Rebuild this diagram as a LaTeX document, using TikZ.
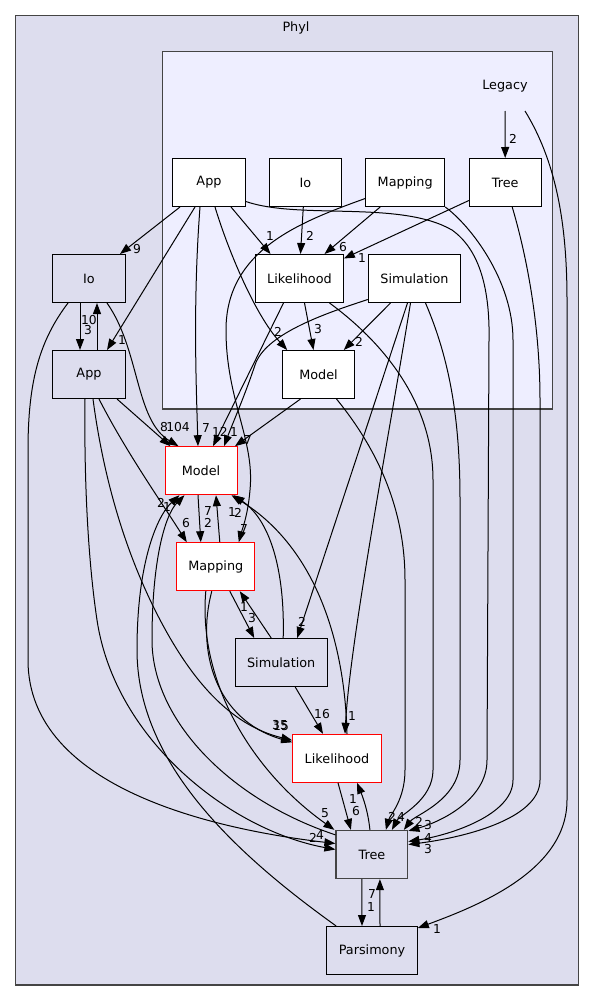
\documentclass[tikz,border=0pt]{standalone}
\usepackage{fontspec}
\setmainfont{DejaVu Sans}
\usetikzlibrary{arrows.meta,calc}
\definecolor{phylfill}{HTML}{DDDDEE}
\definecolor{legfill}{HTML}{EEEEFF}
\definecolor{clline}{HTML}{444444}
\begin{document}
\begin{tikzpicture}[x=1pt,y=-1pt,
  txt/.style={font=\fontsize{12.8}{15}\selectfont},
  lbl/.style={font=\fontsize{12.3}{14}\selectfont, inner sep=0pt},
  box/.style={draw=black, line width=1pt, minimum height=48pt, inner sep=0pt, font=\fontsize{12.8}{15}\selectfont},
  inbox/.style={box, fill=white},
  outbox/.style={box, fill=phylfill},
  redbox/.style={box, draw=red, fill=white},
  edge/.style={draw=black, line width=1pt, -{Triangle[length=11pt,width=8pt]}}
]
\useasboundingbox (0,0) rectangle (595,1001);
\fill[white] (0,0) rectangle (595,1001);
% clusters
\draw[fill=phylfill, draw=clline, line width=1.3pt] (15.5,15.5) rectangle (578.5,985);
\node[txt] (phyl) at (296,28) {Phyl};
\draw[fill=legfill, draw=clline, line width=1.3pt] (162.5,51.5) rectangle (552.5,409);
\node[txt] (legacy) at (505,86) {Legacy};
\coordinate (legA) at (505,111);
\coordinate (legB) at (525,111);
% inner nodes
\node[inbox, minimum width=72.6pt] (lapp) at (209,182.5) {App};
\node[inbox, minimum width=72pt] (lio) at (305.3,182.5) {Io};
\node[inbox, minimum width=79pt] (lmap) at (405.2,182.5) {Mapping};
\node[inbox, minimum width=71.7pt] (ltree) at (505.2,182.5) {Tree};
\node[inbox, minimum width=87.6pt] (llik) at (299.5,278.5) {Likelihood};
\node[inbox, minimum width=92.4pt] (lsim) at (414.5,278.5) {Simulation};
\node[inbox, minimum width=71.6pt] (lmod) at (318.5,374.5) {Model};
% outer nodes
\node[outbox, minimum width=72.6pt] (io) at (89,278.5) {Io};
\node[outbox, minimum width=72.6pt] (app) at (89,374.5) {App};
\node[redbox, minimum width=72pt] (model) at (201,470.7) {Model};
\node[redbox, minimum width=78.3pt] (mapping) at (215.8,566.7) {Mapping};
\node[outbox, minimum width=92.3pt] (sim) at (281.2,662.5) {Simulation};
\node[redbox, minimum width=88.6pt] (lik) at (337,758.3) {Likelihood};
\node[outbox, draw=clline, line width=1.3pt, minimum width=71.7pt] (tree) at (371.9,854.5) {Tree};
\node[outbox, minimum width=90.6pt] (pars) at (372,950.5) {Parsimony};

% edges from Legacy
\draw[edge] (legA) -- (ltree.north);
\draw[edge] (legB) .. controls (555,160) and (567,220) .. (567,300) -- (567,800) .. controls (567,870) and (480,905) .. ($(pars.north east)+(0,2)$);
% Legacy/App
\draw[edge] ($(lapp.south)+(-29,0)$) -- ($(io.north)+(31,0)$);
\draw[edge] ($(lapp.south)+(-14,0)$) -- ($(app.north)+(18,0)$);
\draw[edge] ($(lapp.south)+(-9,0)$) .. controls (193,300) and (196,380) .. ($(model.north)+(-3,0)$);
\draw[edge] ($(lapp.south)+(6,0)$) .. controls (228,250) and (255,315) .. ($(lmod.north west)+(5,0)$);
\draw[edge] ($(lapp.south)+(22,0)$) -- ($(llik.north)+(-29,0)$);
\draw[edge] ($(lapp.east)+(0,19)$) .. controls (300,220) and (400,200) .. (452,230) .. controls (480,250) and (490,290) .. (489,340) -- (487,760) .. controls (487,800) and (440,822) .. ($(tree.north east)+(0,1)$);
% Legacy/Io
\draw[edge] ($(lio.south)+(-2,0)$) -- ($(llik.north)+(1,0)$);
% Legacy/Mapping
\draw[edge] ($(lmap.south)+(-25,0)$) -- ($(llik.north)+(25,0)$);
\draw[edge] ($(lmap.west)+(0,16)$) .. controls (300,222) and (226,250) .. (226,330) .. controls (226,400) and (255,440) .. (250,490) .. controls (248,515) and (242,530) .. ($(mapping.north)+(23,0)$);
\draw[edge] (lmap.south east) .. controls (470,225) and (513,280) .. (513,340) -- (513,780) .. controls (513,815) and (450,835) .. ($(tree.east)+(0,-13)$);
% Legacy/Tree
\draw[edge] ($(ltree.west)+(0,18)$) -- ($(llik.east)+(0,-20)$);
\draw[edge] ($(ltree.south)+(7,0)$) .. controls (525,250) and (540,320) .. (540,400) -- (540,780) .. controls (540,820) and (460,838) .. ($(tree.east)+(0,-10)$);
% Legacy/Likelihood
\draw[edge] ($(llik.south)+(-16,0)$) -- ($(model.north)+(12,0)$);
\draw[edge] ($(llik.south)+(5,0)$) -- ($(lmod.north)+(-5,0)$);
\draw[edge] ($(llik.south)+(30,0)$) .. controls (380,340) and (433,400) .. (433,480) -- (433,770) .. controls (433,800) and (400,815) .. ($(tree.north)+(20,0)$);
% Legacy/Simulation
\draw[edge] ($(lsim.south)+(-24,0)$) -- ($(lmod.north east)+(-11,0)$);
\draw[edge] ($(lsim.west)+(0,21)$) .. controls (320,315) and (265,335) .. (255,365) .. controls (245,395) and (232,425) .. ($(model.north)+(23,0)$);
\draw[edge] ($(lsim.south)+(-7,0)$) -- ($(sim.north)+(16,0)$);
\draw[edge] ($(lsim.south)+(-4,0)$) .. controls (390,430) and (350,640) .. ($(lik.north)+(8,0)$);
\draw[edge] ($(lsim.south)+(11,0)$) .. controls (450,360) and (460,420) .. (460,500) -- (460,760) .. controls (460,800) and (415,815) .. ($(tree.north)+(32,0)$);
% Legacy/Model
\draw[edge] ($(lmod.south)+(-18,0)$) -- ($(model.north)+(34,0)$);
\draw[edge] ($(lmod.south)+(18,0)$) .. controls (370,440) and (405,500) .. (405,580) -- (405,770) .. controls (405,800) and (390,815) .. ($(tree.north)+(14,0)$);
% outer Io
\draw[edge] ($(io.south)+(-9,0)$) -- ($(app.north)+(-9,0)$);
\draw[edge] ($(app.north)+(8,0)$) -- ($(io.south)+(8,0)$);
\draw[edge] ($(io.south)+(18,0)$) .. controls (140,350) and (135,420) .. ($(model.north west)+(14,0)$);
\draw[edge] ($(io.south)+(-21,0)$) .. controls (40,340) and (28,380) .. (28,450) -- (28,660) .. controls (28,790) and (220,830) .. ($(tree.west)+(0,-11)$);
% outer App
\draw[edge] ($(app.south)+(28,0)$) -- ($(model.north west)+(6,0)$);
\draw[edge] ($(app.south)+(10,0)$) .. controls (125,450) and (160,500) .. ($(mapping.north)+(-29,0)$);
\draw[edge] ($(app.south)+(4,0)$) .. controls (105,490) and (130,560) .. (155,610) .. controls (190,680) and (230,725) .. ($(lik.west)+(0,-18)$);
\draw[edge] ($(app.south)+(-4,0)$) .. controls (84,480) and (88,560) .. (97,620) .. controls (115,740) and (230,830) .. ($(tree.west)+(0,-5)$);
% outer Mapping
\draw[edge] ($(mapping.south)+(-4,0)$) .. controls (196,650) and (215,720) .. ($(lik.west)+(0,-16)$);
\draw[edge] ($(mapping.south)+(-10,0)$) .. controls (198,680) and (250,770) .. ($(tree.north west)+(-1,0)$);
\draw[edge] ($(mapping.south)+(14,0)$) -- ($(sim.north)+(-27,0)$);
\draw[edge] ($(mapping.north)+(4,0)$) -- ($(model.south)+(15,0)$);
% outer Model
\draw[edge] ($(model.south)+(-3,0)$) -- ($(mapping.north)+(-15,0)$);
% outer Simulation
\draw[edge] ($(sim.north)+(-10,0)$) -- ($(mapping.south)+(24,0)$);
\draw[edge] ($(sim.north)+(2,0)$) .. controls (285,570) and (270,520) .. ($(model.south east)+(-4,0)$);
\draw[edge] ($(sim.south)+(14,0)$) -- ($(lik.north)+(-14,0)$);
% outer Likelihood
\draw[edge] ($(lik.north)+(10,0)$) .. controls (345,650) and (320,550) .. ($(model.south east)+(-6,0)$);
\draw[edge] ($(lik.south)+(1,0)$) -- ($(tree.north)+(-21,0)$);
% outer Tree
\draw[edge] ($(tree.north)+(-2,0)$) .. controls (368,810) and (362,795) .. ($(lik.south)+(20,0)$);
\draw[edge] ($(tree.south)+(-10,0)$) -- ($(pars.north)+(-10,0)$);
\draw[edge] ($(tree.north west)+(0,5)$) .. controls (230,800) and (152,720) .. (152,640) .. controls (152,560) and (165,515) .. ($(model.south west)+(20,0)$);
% outer Parsimony
\draw[edge] ($(pars.north)+(8,0)$) -- ($(tree.south)+(8,0)$);
\draw[edge] ($(pars.north west)+(10,0)$) .. controls (230,850) and (137,760) .. (137,650) .. controls (137,560) and (158,515) .. ($(model.south west)+(15,0)$);

% labels
\node[lbl] (l01) at (513,139) {2};
\node[lbl] (l02) at (437,929) {1};
\node[lbl] (l03) at (137,249) {9};
\node[lbl] (l04) at (122,340) {1};
\node[lbl] (l05) at (206,428) {7};
\node[lbl] (l06) at (278,332) {2};
\node[lbl] (l07) at (270,236) {1};
\node[lbl] (l08) at (428,825) {3};
\node[lbl] (l09) at (310,236) {2};
\node[lbl] (l10) at (343,247) {6};
\node[lbl] (l11) at (244,529) {7};
\node[lbl] (l12) at (428,838) {4};
\node[lbl] (l13) at (362,258) {1};
\node[lbl] (l14) at (428,849) {3};
\node[lbl] (l15) at (220,432) {12};
\node[lbl] (l16) at (318,329) {3};
\node[lbl] (l17) at (401,817) {4};
\node[lbl] (l18) at (359,342) {2};
\node[lbl] (l19) at (234,432) {1};
\node[lbl] (l20) at (302,622) {2};
\node[lbl] (l21) at (352,716) {1};
\node[lbl] (l22) at (419,822) {2};
\node[lbl] (l23) at (248,440) {7};
\node[lbl] (l24) at (392,817) {2};
\node[lbl] (l25) at (88,330) {3};
\node[lbl] (l26) at (89,320) {10};
\node[lbl] (l27) at (178,427) {104};
\node[lbl] (l28) at (313,838) {2};
\node[lbl] (l29) at (164,427) {8};
\node[lbl] (l30) at (186,523) {6};
\node[lbl] (l31) at (280,725) {35};
\node[lbl] (l32) at (320,835) {4};
\node[lbl] (l33) at (281,726) {15};
\node[lbl] (l34) at (325,813) {5};
\node[lbl] (l35) at (252,618) {3};
\node[lbl] (l36) at (244,607) {1};
\node[lbl] (l37) at (238,513) {2};
\node[lbl] (l38) at (232,512) {1};
\node[lbl] (l39) at (322,714) {16};
\node[lbl] (l40) at (356,811) {6};
\node[lbl] (l41) at (353,799) {1};
\node[lbl] (l42) at (371,907) {1};
\node[lbl] (l43) at (372,894) {7};
\node[lbl] (l44) at (208,523) {2};
\node[lbl] (l45) at (208,511) {7};
\node[lbl] (l46) at (161,503) {2};
\node[lbl] (l47) at (167,507) {1};
\end{tikzpicture}
\end{document}
